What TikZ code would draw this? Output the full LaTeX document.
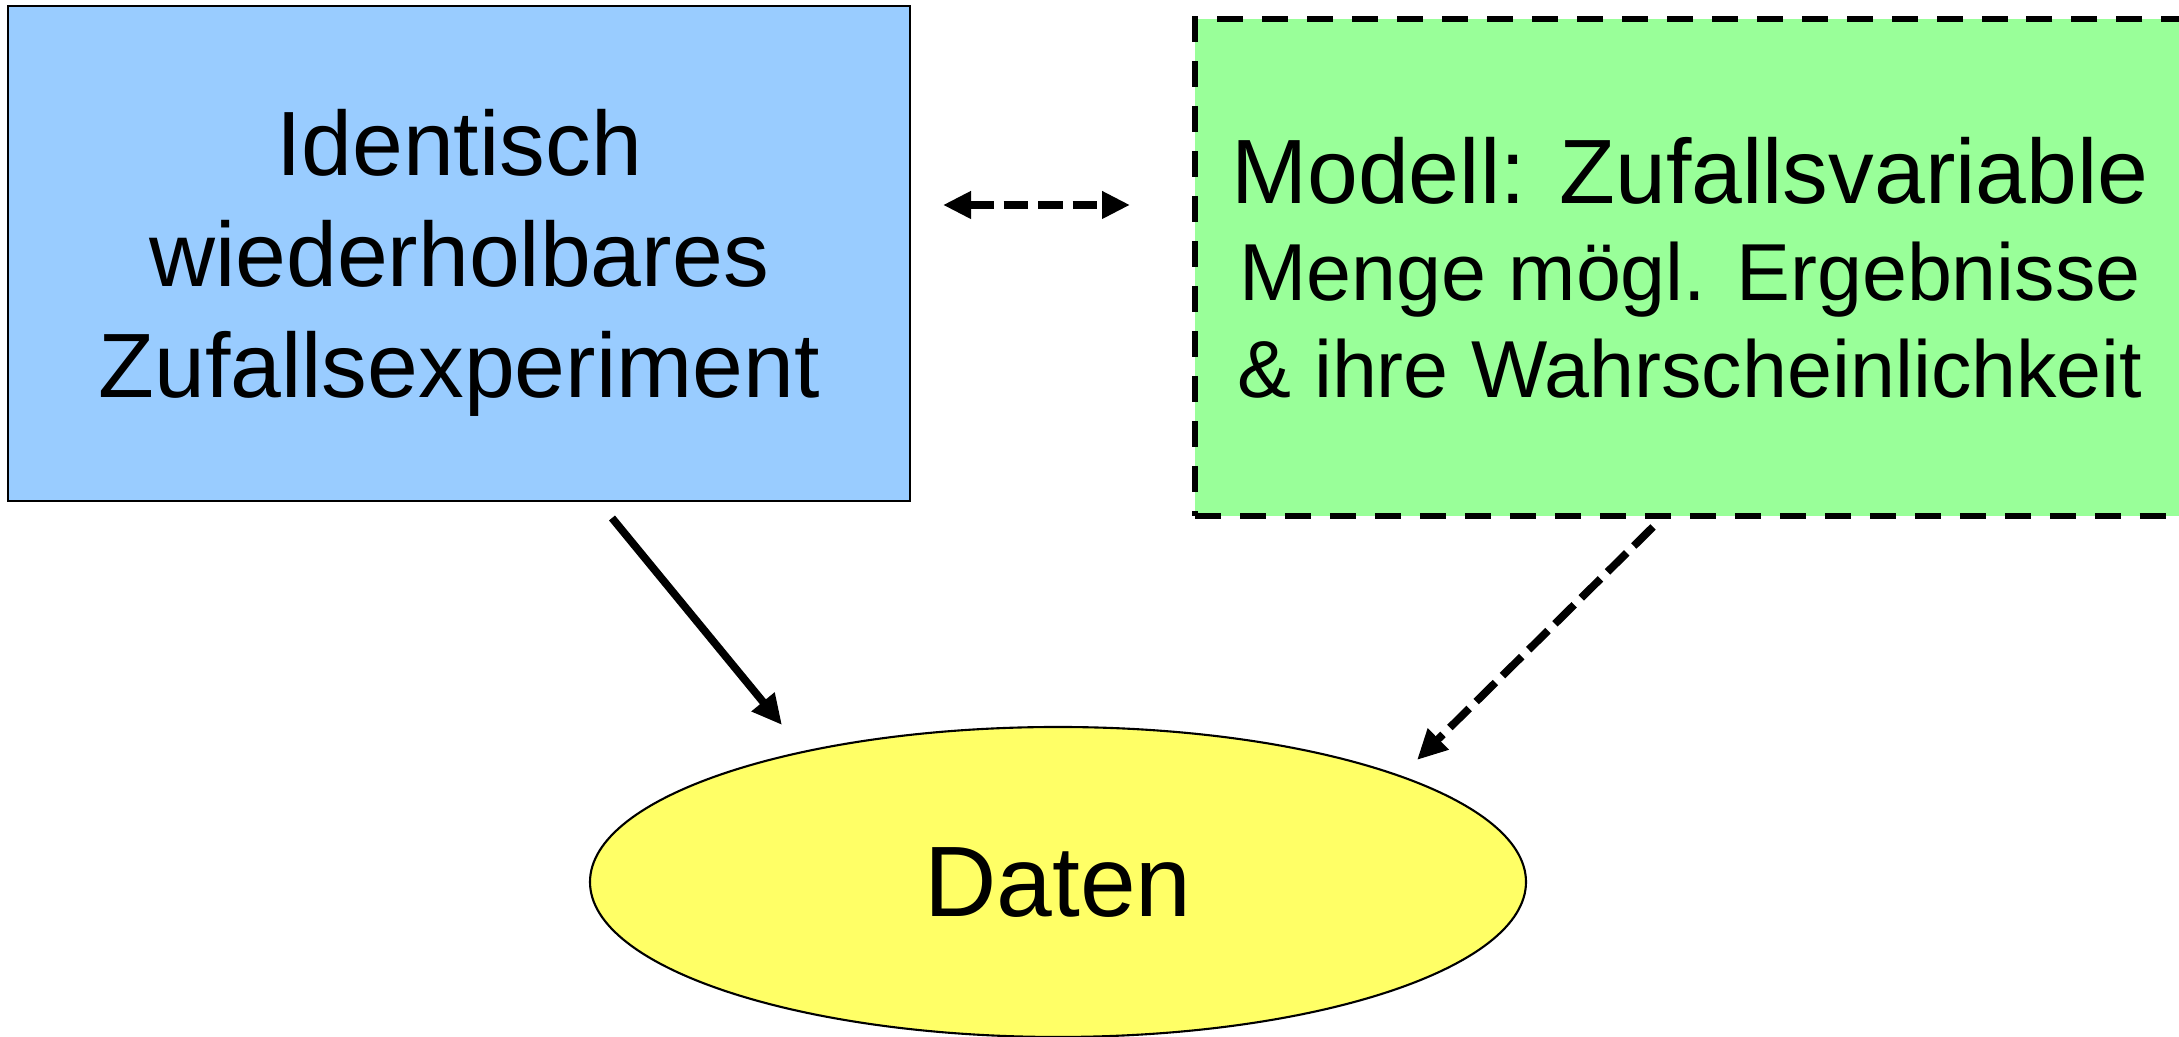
\documentclass[tikz,border=0pt]{standalone}
\usepackage{fontspec}
\setmainfont{Liberation Sans}
\usetikzlibrary{arrows.meta, shapes.geometric}
\definecolor{expfill}{HTML}{99CCFF}
\definecolor{modelfill}{HTML}{99FF99}
\definecolor{datafill}{HTML}{FFFF66}
\tikzset{
    every node/.style={align=center, text depth=0pt, inner sep=0pt},
    expbox/.style={draw, line width=.6pt, fill=expfill, minimum width=9.02cm,
        minimum height=4.95cm, font=\fontsize{26}{31.5}\selectfont},
    modelbox/.style={draw, line width=1.8pt, dash pattern=on 7.4pt off 5.4pt,
        fill=modelfill, minimum width=9.9cm, minimum height=4.97cm,
        font=\fontsize{23}{27.5}\selectfont},
    databall/.style={draw, ellipse, line width=.6pt, fill=datafill,
        minimum width=9.36cm, minimum height=3.1cm,
        font=\fontsize{28.5}{34}\selectfont},
    bigtip/.style={-{Triangle[length=.3cm, width=.28cm]}},
}

\begin{document}
\begin{tikzpicture}
    \useasboundingbox (0, 0) rectangle (21.79, 10.37);
    \clip (0, 0) rectangle (21.79, 10.37);
    \node[expbox] (exp) at (4.59, 7.835)
        {Identisch\\wiederholbares\\Zufallsexperiment};
    \node[modelbox] (model) at (16.9, 7.695)
        {{\fontsize{26}{27.5}\selectfont Modell: Zufallsvariable}\\
        Menge mögl. Ergebnisse\\\& ihre Wahrscheinlichkeit};
    \node[databall] (data) at (10.58, 1.55) {Daten};
    \coordinate (expout) at (6.12, 5.19);
    \coordinate (datain) at (7.82, 3.12);
    \coordinate (modelout) at (16.53, 5.1);
    \coordinate (datain2) at (14.17, 2.77);
    \coordinate (linkl) at (9.43, 8.32);
    \coordinate (linkr) at (11.3, 8.32);
    \draw[bigtip, line width=2.2pt] (expout) -- (datain);
    \draw[bigtip, line width=2.2pt, dash pattern=on 7.7pt off 2.8pt]
        (modelout) -- (datain2);
    \draw[{Triangle[length=.28cm, width=.26cm]}-{Triangle[length=.28cm,
        width=.26cm]}, line width=2.5pt, dash pattern=on 7pt off 2.8pt]
        (linkl) -- (linkr);
\end{tikzpicture}
\end{document}
